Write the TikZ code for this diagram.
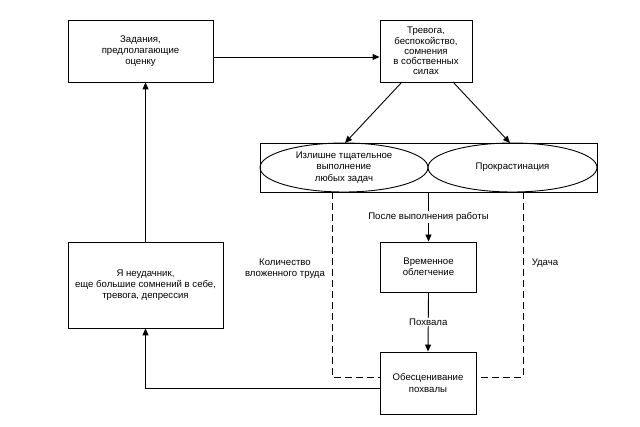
\documentclass[tikz,border=0pt]{standalone}
\usepackage{fontspec}
\setmainfont{Liberation Sans}
\usetikzlibrary{arrows.meta,shapes.geometric}
\begin{document}
\begin{tikzpicture}[x=1pt,y=-1pt,
  txt/.style={font=\fontsize{9.6}{11.2}\selectfont},
  box/.style={draw,line width=0.9pt,align=center,inner sep=0pt,txt},
  oval/.style={draw,ellipse,line width=0.9pt,align=center,inner sep=0pt,txt,minimum height=49pt},
  lbl/.style={align=center,txt,inner sep=1pt},
  conn/.style={line width=0.9pt,-{Triangle[length=7pt,width=6pt]}},
  dashline/.style={line width=0.9pt,dash pattern=on 7pt off 4pt}]
\useasboundingbox (0,0) rectangle (640,427);
\node[box,minimum width=145pt,minimum height=62pt] (t1) at (140.5,51) {Задания,\\предлолагающие\\оценку};
\node[box,minimum width=92pt,minimum height=62pt,font=\fontsize{9.6}{10.2}\selectfont] (t2) at (426,51) {Тревога,\\беспокойство,\\сомнения\\в собственных\\силах};
\node[draw,line width=0.9pt,minimum width=337pt,minimum height=49pt,inner sep=0pt] (big) at (428.5,167.5) {};
\node[oval,minimum width=168pt] (e1) at (344,167.5) {Излишне тщательное\\выполнение\\любых задач};
\node[oval,minimum width=169pt] (e2) at (512.5,167.5) {Прокрастинация};
\node[box,minimum width=96pt,minimum height=50pt] (t3) at (428.5,267) {Временное\\облегчение};
\node[box,minimum width=96pt,minimum height=62pt] (t4) at (428,383) {Обесценивание\\похвалы};
\node[box,minimum width=155pt,minimum height=86pt] (t5) at (145.5,285) {Я неудачник,\\еще большие сомнений в себе,\\тревога, депрессия};
\node[lbl] (l1) at (285,268.5) {Количество\\вложенного труда};
\node[lbl] (l2) at (545,263) {Удача};
\coordinate (dl) at (332,192);
\coordinate (dr) at (523,192);
\draw[conn] (t1.east |- 0,57) -- (t2.west |- 0,57);
\draw[conn] (402,82) -- (345,143);
\draw[conn] (453,82) -- (510,143);
\draw[conn] (big.south) -- node[lbl,fill=white,pos=0.5] {После выполнения работы} (t3.north);
\draw[conn] (t3.south) -- node[lbl,fill=white] {Похвала} (t4.north);
\draw[dashline] (dl) -- (dl |- 0,377) -- (t4.west |- 0,377);
\draw[dashline] (dr) -- (dr |- 0,377) -- (t4.east |- 0,377);
\draw[conn] (t4.west |- 0,388) -- (t5.south |- 0,388) -- (t5.south);
\draw[conn] (t5.north) -- (t5.north |- t1.south);
\end{tikzpicture}
\end{document}
